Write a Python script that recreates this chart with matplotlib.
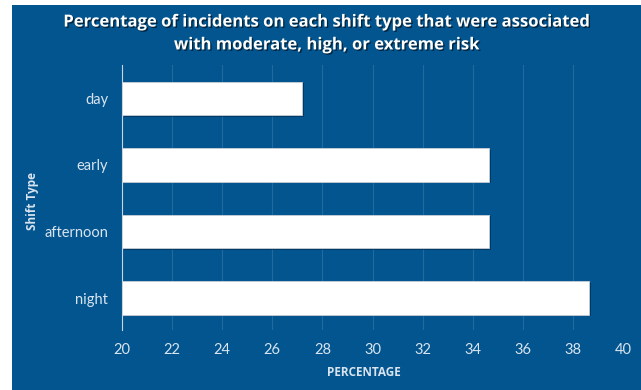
import matplotlib.pyplot as plt
import matplotlib.patheffects as pe
from matplotlib.patches import Rectangle

# Share of incidents per shift type rated moderate/high/extreme risk
shifts = ['day', 'early', 'afternoon', 'night']
percent = [27.2, 34.65, 34.65, 38.65]
xticks = list(range(20, 41, 2))

bg = '#02558F'
txt = '#D9E4EF'

fig = plt.figure(figsize=(6.41, 3.90), dpi=100)
fig.patch.set_facecolor('white')
fig.add_artist(Rectangle((12/641, 0), 1, 1 - 5/390, transform=fig.transFigure,
                         facecolor=bg, edgecolor='none', zorder=-10))

ax = fig.add_axes([122/641, 1 - 330/390, (623-122)/641, (330-65)/390])
ax.set_facecolor(bg)

shadow = [pe.SimplePatchShadow(offset=(1.2, -1.2), shadow_rgbFace='#012a4a', alpha=0.6), pe.Normal()]
bars = ax.barh(range(len(shifts)), [p - 20 for p in percent], left=20, height=0.5,
               color='white', edgecolor='#C8CED6', linewidth=0.6, zorder=3)
for b in bars:
    b.set_path_effects(shadow)

ax.set_xlim(20, 40)
ax.set_ylim(3.48, -0.5)
ax.set_xticks(xticks)
ax.set_yticks(range(len(shifts)))
ax.set_yticklabels(shifts)
ax.grid(axis='x', color='white', alpha=0.13, linewidth=0.8, zorder=1)
for s in ['top', 'right', 'bottom']:
    ax.spines[s].set_visible(False)
ax.spines['left'].set_color('#C8D4E2')
ax.spines['left'].set_linewidth(0.8)
ax.tick_params(axis='both', length=0, colors=txt, labelsize=10.5, labelfontfamily='Lato')
ax.tick_params(axis='x', pad=9)
ax.tick_params(axis='y', pad=10)

ax.set_xlabel('PERCENTAGE', color=txt, fontsize=8.5, fontweight='bold', family='Open Sans')
ax.xaxis.set_label_coords(0.482, -0.135)
ax.set_ylabel('Shift Type', color=txt, fontsize=8.5, fontweight='bold', family='Open Sans')
ax.yaxis.set_label_coords(-0.166, 0.485)

title_fx = [pe.withSimplePatchShadow(offset=(1, -1), shadow_rgbFace='black', alpha=0.55)]
fig.text(326.5/641, 1 - 33/390,
         'Percentage of incidents on each shift type that were associated\nwith moderate, high, or extreme risk',
         ha='center', va='center', color='white', fontsize=12, fontweight='bold',
         family='Open Sans', linespacing=1.35, path_effects=title_fx)

fig.savefig('out.png', dpi=100, facecolor=fig.get_facecolor())
